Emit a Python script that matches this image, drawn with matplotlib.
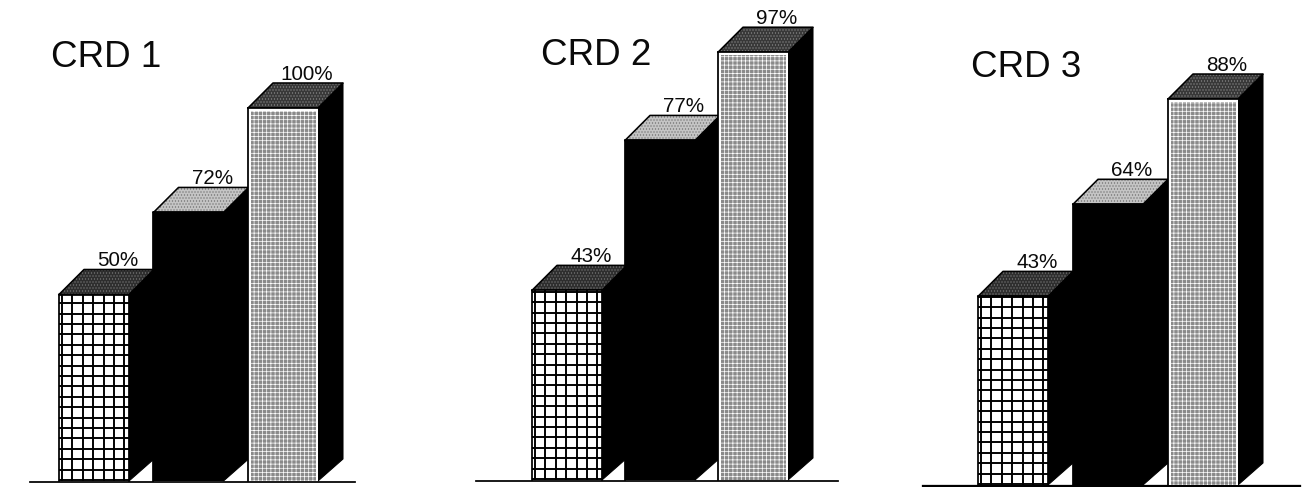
import matplotlib
matplotlib.use("Agg")
import matplotlib.pyplot as plt
import numpy as np

plt.rcParams['font.family'] = ['Liberation Sans', 'DejaVu Sans']
plt.rcParams['hatch.linewidth'] = 0.4

W, H, DPI = 1315, 487, 126

titles = ["CRD 1", "CRD 2", "CRD 3"]
labels = [["50%", "72%", "100%"], ["43%", "77%", "97%"], ["43%", "64%", "88%"]]
values = [[50, 72, 100], [43, 77, 97], [43, 64, 88]]

# panel layout in pixels: left of first bar, bar pitch, baseline, px per percent
lefts = [59, 532, 978]
gaps = [94.5, 93, 95]
bases = [481, 480, 485]
scales = [3.73, 4.41, 4.386]
title_pos = [(51, 67), (541, 65), (971, 77)]
line_span = [(30, 355), (476, 838), (923, 1300)]
line_w = [1.0, 1.0, 1.3]

bar_w = 70
depth = 25
foot = 22
cell = 10.4

top = [dict(facecolor="#2e2e2e", edgecolor="#7a7a7a", hatch="......."),
       dict(facecolor="#c4c4c4", edgecolor="#6e6e6e", hatch="......."),
       dict(facecolor="#383838", edgecolor="#8a8a8a", hatch=".......")]

fig = plt.figure(figsize=(W / DPI, H / DPI), dpi=DPI, facecolor="white")
ax = fig.add_axes([0, 0, 1, 1])
ax.set_xlim(0, W)
ax.set_ylim(H, 0)
ax.axis("off")

for p in range(3):
    base = bases[p]
    s = scales[p]
    ax.plot(line_span[p], [base + 1, base + 1], color="black", lw=line_w[p], zorder=1)
    ax.text(title_pos[p][0], title_pos[p][1], titles[p], fontsize=21, ha="left",
            va="baseline", color="#0a0a0a")
    for i, v in enumerate(values[p]):
        x0 = lefts[p] + i * gaps[p]
        x1 = x0 + bar_w
        y = base - v * s
        z = 2 + i
        # right side
        ax.fill([x1, x1 + depth, x1 + depth, x1], [y, y - depth, base - foot, base],
                facecolor="black", edgecolor="black", lw=0.6, zorder=z)
        # top face
        ax.fill([x0, x0 + depth, x1 + depth, x1], [y, y - depth, y - depth, y],
                lw=0, zorder=z, **top[i])
        ax.plot([x0, x0 + depth, x1 + depth, x1, x0], [y, y - depth, y - depth, y, y],
                color="black", lw=0.9, zorder=z)
        # front face
        if i == 0:
            ax.bar(x0, v * s, width=bar_w, bottom=y, align="edge", color="white", lw=0, zorder=z)
            ax.vlines(np.arange(x0 + 3, x1, cell), y, base, color="black", lw=1.1, zorder=z)
            ax.hlines(np.arange(base - 1, y, -cell), x0, x1, color="black", lw=1.1, zorder=z)
        elif i == 1:
            ax.bar(x0, v * s, width=bar_w, bottom=y, align="edge", color="black", lw=0, zorder=z)
        else:
            ax.bar(x0, v * s, width=bar_w, bottom=y, align="edge", color="white", lw=0, zorder=z)
            ax.bar(x0 + 3, v * s - 3, width=bar_w - 5, bottom=y + 3, align="edge", facecolor="#8a8a8a",
                   edgecolor="white", hatch="+++++", lw=0, zorder=z)
        ax.plot([x0, x0, x1], [base, y, y], color="black", lw=1.0, zorder=z)
        if i == 0:
            ax.plot([x1, x1], [y, base], color="black", lw=1.0, zorder=z)
        ax.text(x0 + 59, y - depth - 3, labels[p][i], fontsize=11.8, ha="center",
                va="baseline", color="#0a0a0a", zorder=10)

fig.savefig("out.png", dpi=DPI)
